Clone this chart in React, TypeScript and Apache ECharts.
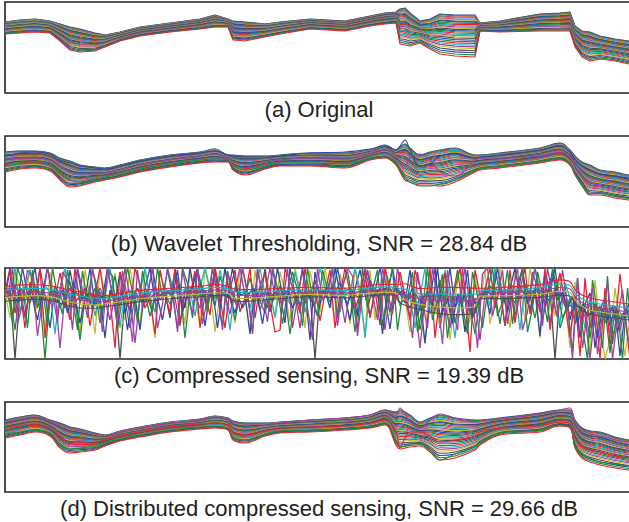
import React, { useEffect, useRef } from "react";
import * as echarts from "echarts";

// Shared sample positions along the signal (image px)
const X = [5, 20, 35, 50, 60, 70, 80, 95, 105, 120, 140, 170, 200, 215, 228, 233, 245, 265, 280, 310, 345, 370, 385, 396, 400, 405, 410, 420, 430, 440, 455, 475, 480, 500, 540, 560, 570, 575, 582, 590, 600, 615, 629, 645];

// Panel (a) Original: upper / lower edge of the bundle (depth below frame top)
const A_UPPER = [20, 18, 17, 19, 22, 25, 27, 31, 33, 30, 25, 21, 17, 13, 17, 19, 20, 22, 20, 17, 19, 14, 11, 10, 7, 6, 11, 19, 17, 12, 13, 13, 21, 19, 12, 11, 10, 24, 29, 30, 34, 37, 39, 40];
const A_LOWER = [32, 31, 30, 31, 39, 48, 50, 49, 45, 39, 34, 30, 27, 25, 25, 38, 39, 35, 32, 27, 29, 24, 22, 21, 42, 43, 44, 41, 47, 52, 54, 55, 29, 30, 29, 29, 29, 45, 55, 59, 57, 59, 62, 63];

// Panel (b) Wavelet thresholding
const B_UPPER = [16, 15, 15, 17, 22, 25, 29, 31, 32, 29, 24, 19, 16, 13, 19, 19, 20, 20, 19, 17, 17, 14, 9, 14, 11, 8, 12, 19, 16, 14, 12, 19, 19, 17, 12, 7, 14, 20, 26, 29, 34, 36, 39, 40];
const B_LOWER = [36, 33, 32, 35, 44, 51, 50, 46, 44, 41, 36, 31, 27, 26, 26, 34, 39, 33, 30, 30, 32, 24, 22, 29, 36, 44, 46, 49, 49, 50, 46, 36, 34, 32, 27, 24, 29, 39, 49, 59, 59, 62, 64, 65];
const B_EXTRA_1 = [20, 17, 16, 18, 24, 27, 30, 32, 33, 30, 25, 20, 17, 15, 19, 20, 21, 21, 20, 17, 16, 13, 10, 14, 10, 4, 14, 30, 28, 20, 18, 22, 21, 19, 14, 10, 16, 24, 30, 34, 38, 40, 42, 43];
const B_EXTRA_2 = [30, 28, 27, 30, 38, 44, 46, 43, 41, 38, 33, 28, 24, 23, 24, 30, 34, 30, 27, 27, 28, 22, 20, 26, 34, 42, 46, 50, 50, 48, 44, 34, 32, 30, 25, 22, 27, 38, 50, 58, 57, 60, 62, 63];
const B_EXTRA_3 = [24, 22, 22, 24, 30, 36, 38, 38, 37, 34, 29, 24, 20, 18, 22, 26, 28, 26, 24, 22, 22, 18, 14, 20, 26, 30, 22, 18, 24, 36, 40, 24, 22, 22, 20, 16, 20, 30, 40, 46, 50, 54, 56, 57];

// Panel (c) Compressed sensing: underlying band
const C_UPPER = [17, 15, 15, 16, 18, 20, 22, 25, 26, 24, 21, 19, 17, 15, 17, 19, 20, 20, 19, 18, 19, 16, 15, 15, 14, 13, 15, 18, 17, 16, 16, 17, 19, 18, 15, 10, 12, 20, 25, 28, 30, 32, 34, 35];
const C_LOWER = [35, 34, 33, 34, 37, 40, 42, 42, 40, 38, 35, 32, 30, 29, 29, 34, 35, 33, 32, 30, 31, 29, 28, 29, 37, 40, 42, 44, 47, 49, 50, 48, 32, 32, 31, 29, 30, 37, 44, 48, 50, 52, 54, 55];
// Noisy reconstructions, one value every 5 px (from x = 5, or x = 7.5 for the second group)
const C_NOISE_1 = [25, 0, 30, 22, 48, 20, 0, 33, 26, 60, 18, 27, 40, 2, 30, 55, 31, 0, 38, 29, 70, 22, 35, 4, 45, 28, 30, 62, 20, 0, 34, 27, 24, 50, 2, 26, 40, 0, 28, 22, 58, 25, 3, 36, 0, 30, 45, 26, 28, 66, 20, 31, 1, 44, 24, 27, 55, 0, 26, 38, 22, 72, 4, 28, 23, 40, 0, 25, 30, 52, 21, 2, 27, 48, 24, 0, 29, 61, 20, 26, 35, 2, 44, 28, 75, 30, 0, 50, 33, 0, 40, 28, 64, 22, 36, 30, 24, 46, 3, 23, 58, 21, 0, 30, 25, 42, 20, 68, 5, 24, 0, 38, 20, 52, 30, 70, 36, 25, 80, 42, 30, 58, 39, 88, 44, 35, 62, 45];
const C_NOISE_2 = [30, 2, 45, 22, 60, 14, 38, 0, 70, 24, 32, 5, 29, 52, 0, 35, 20, 58, 27, 0, 36, 31, 80, 4, 24, 42, 0, 16, 40, 30, 66, 2, 27, 45, 0, 55, 22, 28, 3, 60, 26, 47, 0, 30, 60, 21, 2, 44, 30, 0, 50, 18, 6, 35, 64, 62, 1, 12, 27, 45, 0, 31, 20, 53, 25, 2, 60, 27, 0, 24, 41, 26, 3, 50, 22, 57, 0, 20, 36, 4, 28, 52, 2, 19, 40, 0, 70, 26, 5, 45, 20, 0, 29, 84, 2, 27, 22, 0, 40, 20, 58, 2, 55, 22, 0, 46, 23, 44, 1, 62, 26, 5, 36, 70, 28, 88, 10, 60, 35, 91, 20, 76, 60, 6, 48, 91, 30, 86];
const C_NOISE_3 = [22, 28, 62, 20, 26, 35, 18, 30, 91, 25, 22, 40, 28, 14, 33, 72, 29, 34, 20, 55, 30, 28, 8, 36, 32, 60, 27, 33, 25, 48, 31, 22, 26, 36, 22, 20, 70, 24, 30, 15, 27, 24, 38, 8, 25, 30, 52, 24, 26, 10, 29, 33, 45, 24, 30, 18, 28, 66, 26, 22, 35, 27, 12, 30, 22, 34, 24, 15, 28, 23, 64, 20, 26, 12, 25, 33, 22, 44, 18, 24, 30, 40, 26, 62, 33, 22, 31, 12, 38, 29, 55, 34, 27, 40, 66, 32, 25, 18, 24, 56, 21, 27, 35, 22, 16, 28, 50, 22, 26, 34, 20, 60, 44, 30, 56, 38, 42, 70, 35, 46, 40, 85, 38, 50, 45, 33, 57, 48];
const C_NOISE_4 = [18, 24, 0, 44, 20, 2, 22, 38, 17, 25, 66, 20, 0, 30, 18, 24, 26, 20, 48, 24, 28, 0, 30, 58, 26, 22, 38, 25, 0, 29, 44, 23, 20, 27, 3, 34, 20, 22, 48, 19, 0, 23, 30, 2, 24, 62, 19, 22, 24, 40, 22, 0, 27, 24, 50, 21, 25, 36, 4, 26, 44, 22, 29, 0, 20, 26, 18, 44, 20, 24, 0, 22, 70, 19, 21, 34, 3, 25, 16, 38, 24, 30, 60, 28, 0, 46, 26, 34, 2, 30, 70, 25, 33, 20, 44, 27, 20, 38, 0, 22, 27, 16, 20, 62, 19, 24, 0, 22, 36, 17, 40, 55, 15, 30, 42, 34, 60, 32, 40, 48, 36, 66, 40, 44, 52, 38, 70, 42];
const C_NOISE_5 = [27, 32, 18, 26, 50, 22, 30, 0, 28, 36, 24, 80, 26, 20, 34, 28, 30, 24, 36, 20, 32, 52, 28, 34, 0, 30, 75, 29, 35, 26, 18, 32, 26, 22, 30, 58, 24, 19, 28, 40, 22, 30, 0, 25, 27, 46, 22, 0, 28, 30, 22, 42, 26, 0, 29, 25, 33, 20, 27, 60, 24, 28, 36, 22, 26, 20, 30, 25, 55, 22, 27, 30, 0, 24, 28, 20, 62, 24, 28, 35, 32, 25, 36, 80, 30, 28, 42, 24, 36, 60, 28, 34, 0, 38, 30, 72, 26, 30, 20, 24, 34, 22, 48, 20, 26, 28, 0, 30, 24, 55, 22, 26, 38, 46, 35, 40, 48, 91, 44, 38, 55, 40, 46, 62, 42, 50, 86, 46];
const C_NOISE_6 = [24, 50, 3, 20, 36, 0, 45, 22, 62, 4, 33, 26, 0, 50, 24, 66, 2, 28, 66, 0, 26, 34, 5, 60, 50, 0, 28, 58, 2, 32, 70, 3, 25, 48, 0, 26, 56, 4, 28, 58, 0, 20, 64, 26, 3, 22, 55, 0, 27, 62, 2, 36, 0, 28, 48, 4, 24, 54, 1, 22, 60, 3, 27, 44, 0, 28, 52, 6, 24, 56, 0, 30, 66, 2, 52, 23, 0, 48, 22, 4, 30, 64, 8, 40, 76, 2, 38, 58, 6, 72, 30, 0, 64, 52, 10, 36, 2, 56, 30, 0, 28, 60, 4, 20, 52, 0, 26, 70, 2, 24, 48, 6, 30, 80, 14, 64, 40, 86, 12, 60, 91, 72, 20, 55, 88, 50, 80, 22];
const C_NOISE_7 = [26, 20, 91, 24, 28, 22, 30, 26, 32, 24, 28, 22, 30, 26, 24, 28, 30, 26, 32, 28, 34, 30, 26, 91, 28, 30, 24, 32, 28, 30, 26, 28, 24, 26, 22, 28, 24, 26, 22, 28, 24, 26, 30, 24, 26, 28, 22, 26, 28, 24, 26, 30, 24, 28, 26, 22, 28, 26, 30, 24, 28, 26, 91, 24, 22, 24, 26, 22, 24, 20, 26, 22, 24, 26, 22, 24, 20, 26, 22, 24, 28, 30, 26, 32, 28, 30, 26, 60, 30, 28, 32, 26, 30, 28, 32, 30, 24, 22, 26, 24, 22, 26, 24, 22, 26, 24, 22, 26, 24, 22, 91, 24, 34, 38, 36, 40, 38, 42, 44, 40, 46, 44, 48, 46, 50, 48, 52, 50];
const C_NOISE_8 = [28, 20, 35, 0, 26, 30, 52, 24, 0, 29, 34, 22, 45, 27, 2, 31, 26, 40, 22, 30, 0, 28, 36, 24, 62, 29, 20, 33, 27, 0, 30, 52, 22, 30, 2, 44, 25, 20, 0, 27, 34, 22, 60, 24, 30, 0, 26, 40, 30, 20, 28, 56, 24, 33, 0, 28, 22, 40, 30, 0, 27, 34, 48, 24, 20, 30, 0, 26, 36, 22, 48, 24, 3, 30, 22, 66, 26, 0, 28, 22, 34, 20, 48, 30, 24, 38, 0, 44, 30, 56, 26, 36, 2, 50, 34, 28, 22, 30, 0, 26, 44, 22, 28, 0, 36, 24, 20, 52, 26, 4, 32, 24, 40, 28, 55, 36, 48, 44, 70, 40, 52, 38, 64, 46, 42, 74, 48, 44];
const C_NOISE_9 = [22, 54, 0, 14, 60, 2, 40, 20, 58, 0, 28, 46, 2, 30, 62, 3, 34, 0, 30, 46, 2, 8, 62, 28, 0, 24, 54, 3, 30, 44, 0, 30, 2, 28, 60, 0, 16, 50, 4, 20, 44, 0, 28, 58, 3, 24, 36, 0, 26, 64, 2, 28, 40, 0, 20, 56, 24, 4, 22, 58, 0, 30, 48, 2, 22, 0, 50, 18, 3, 34, 60, 0, 40, 22, 2, 58, 24, 0, 62, 26, 30, 4, 64, 40, 0, 52, 32, 6, 70, 30, 2, 38, 66, 4, 28, 60, 24, 0, 48, 34, 2, 56, 18, 0, 64, 40, 4, 26, 54, 0, 24, 50, 38, 84, 10, 60, 91, 12, 44, 80, 8, 76, 42, 91, 20, 66, 86, 26];
const C_NOISE_10 = [30, 0, 56, 36, 2, 10, 68, 32, 0, 26, 54, 4, 12, 62, 0, 22, 50, 2, 20, 64, 0, 26, 58, 3, 30, 74, 2, 40, 26, 0, 60, 36, 0, 20, 64, 2, 28, 46, 0, 56, 30, 1, 24, 62, 4, 28, 40, 0, 24, 66, 0, 26, 54, 2, 28, 38, 0, 60, 30, 3, 40, 72, 0, 32, 26, 2, 58, 20, 0, 8, 68, 24, 2, 26, 52, 0, 24, 46, 0, 26, 32, 70, 4, 34, 60, 0, 30, 76, 2, 40, 62, 0, 44, 30, 80, 6, 0, 48, 26, 2, 56, 24, 0, 62, 44, 4, 20, 58, 0, 28, 50, 2, 36, 91, 10, 80, 44, 20, 86, 46, 14, 91, 50, 22, 66, 88, 52, 30];

// Panel (d) Distributed compressed sensing
const D_UPPER = [18, 15, 13, 18, 21, 25, 27, 31, 33, 29, 25, 20, 17, 14, 16, 19, 21, 21, 20, 18, 16, 13, 8, 10, 8, 10, 13, 20, 16, 13, 16, 18, 18, 16, 11, 8, 8, 18, 26, 29, 30, 35, 38, 39];
const D_LOWER = [36, 33, 30, 34, 46, 51, 50, 48, 44, 39, 35, 30, 27, 26, 28, 38, 41, 34, 31, 30, 28, 26, 23, 43, 47, 46, 45, 44, 50, 58, 56, 48, 43, 33, 30, 24, 26, 46, 56, 60, 63, 66, 68, 69];
const D_EXTRA_1 = [20, 17, 15, 19, 23, 27, 29, 32, 34, 30, 26, 21, 18, 15, 17, 20, 22, 22, 21, 18, 16, 13, 8, 14, 6, 12, 20, 26, 18, 12, 16, 20, 19, 17, 12, 8, 6, 20, 28, 32, 34, 38, 40, 41];
const D_EXTRA_2 = [32, 30, 28, 31, 42, 47, 46, 44, 41, 37, 33, 28, 25, 24, 26, 35, 38, 32, 29, 28, 27, 24, 21, 38, 45, 44, 42, 42, 48, 58, 52, 44, 40, 31, 28, 23, 25, 44, 52, 56, 60, 62, 64, 65];
const D_EXTRA_3 = [26, 24, 22, 26, 34, 40, 40, 40, 38, 34, 30, 25, 22, 21, 23, 30, 33, 29, 26, 25, 24, 21, 18, 30, 46, 36, 30, 30, 34, 40, 38, 34, 30, 26, 24, 20, 22, 36, 44, 48, 50, 54, 56, 57];

// Position of each trace inside its bundle (0 = upper edge, 1 = lower edge)
const LINE_WEIGHTS = [0, 0.02, 0.05, 0.07, 0.1, 0.12, 0.15, 0.17, 0.2, 0.23, 0.26, 0.29, 0.32, 0.35, 0.38, 0.41, 0.44, 0.47, 0.5, 0.53, 0.56, 0.6, 0.64, 0.68, 0.72, 0.76, 0.8, 0.85, 0.9, 0.95, 1];
const C_WEIGHTS = [0.1, 0.3, 0.5, 0.7, 0.9];

const TITLES = [
  "(a) Original",
  "(b) Wavelet Thresholding, SNR = 28.84 dB",
  "(c) Compressed sensing, SNR = 19.39 dB",
  "(d) Distributed compressed sensing, SNR = 29.66 dB",
];

const COLORS = ["#2f47a8", "#1f8a3e", "#e8232b", "#1fb5c0", "#a13fa3", "#c2bd2c", "#4d4d4d"];

const GRID_TOPS = [2, 136, 268, 402];
const GRID_HEIGHTS = [91, 91, 91, 90];
const TITLE_Y = [109, 243, 375, 508];

export default function App() {
  const ref = useRef<HTMLDivElement>(null);

  useEffect(() => {
    if (!ref.current) return;
    const chart = echarts.init(ref.current, null, { renderer: "svg" });

    const series: any[] = [];
    let colorIdx = 0;
    const nextColor = () => COLORS[colorIdx++ % COLORS.length];

    const addLine = (idx: number, data: number[][], color: string, smooth: number | boolean, width = 1.1) => {
      series.push({
        type: "line",
        xAxisIndex: idx,
        yAxisIndex: idx,
        data,
        symbol: "none",
        showSymbol: false,
        smooth,
        silent: true,
        clip: true,
        lineStyle: { color, width },
        emphasis: { disabled: true },
      });
    };

    const bundle = (idx: number, up: number[], lo: number[], weights: number[], smooth: number | boolean) => {
      weights.forEach((w) => {
        const data = X.map((x, i) => [x, up[i] + w * (lo[i] - up[i])]);
        addLine(idx, data, nextColor(), smooth);
      });
    };

    const raw = (idx: number, vals: number[], color: string, smooth: number | boolean) => {
      addLine(idx, X.map((x, i) => [x, vals[i]]), color, smooth, 1.1);
    };

    // (a)
    bundle(0, A_UPPER, A_LOWER, LINE_WEIGHTS, false);
    // (b)
    colorIdx = 0;
    bundle(1, B_UPPER, B_LOWER, LINE_WEIGHTS, 0.4);
    raw(1, B_EXTRA_1, COLORS[0], 0.4);
    raw(1, B_EXTRA_2, COLORS[1], 0.4);
    raw(1, B_EXTRA_3, COLORS[4], 0.4);
    // (c)
    const noiseA = [C_NOISE_7, C_NOISE_6, C_NOISE_3, C_NOISE_1, C_NOISE_4, C_NOISE_5, C_NOISE_2];
    const noiseAColors = [COLORS[6], COLORS[5], COLORS[1], COLORS[0], COLORS[3], COLORS[4], COLORS[2]];
    noiseA.forEach((arr, k) => {
      addLine(2, arr.map((v, i) => [5 + 5 * i, v]), noiseAColors[k], false, 1.3);
    });
    const noiseB = [C_NOISE_8, C_NOISE_9, C_NOISE_10];
    const noiseBColors = [COLORS[0], COLORS[1], COLORS[4]];
    noiseB.forEach((arr, k) => {
      addLine(2, arr.map((v, i) => [7.5 + 5 * i, v]), noiseBColors[k], false, 1.3);
    });
    colorIdx = 2;
    bundle(2, C_UPPER, C_LOWER, C_WEIGHTS, 0.3);
    // (d)
    colorIdx = 0;
    bundle(3, D_UPPER, D_LOWER, LINE_WEIGHTS, 0.4);
    raw(3, D_EXTRA_1, COLORS[4], 0.4);
    raw(3, D_EXTRA_2, COLORS[1], 0.4);
    raw(3, D_EXTRA_3, COLORS[2], 0.4);

    const grids = GRID_TOPS.map((top, i) => ({
      left: 5,
      top,
      width: 640,
      height: GRID_HEIGHTS[i],
      show: true,
      borderColor: "#222",
      borderWidth: 1.6,
      backgroundColor: "transparent",
      containLabel: false,
    }));
    const xAxes = GRID_TOPS.map((_, i) => ({
      type: "value",
      gridIndex: i,
      min: 5,
      max: 645,
      show: false,
    }));
    const yAxes = GRID_TOPS.map((_, i) => ({
      type: "value",
      gridIndex: i,
      min: 0,
      max: GRID_HEIGHTS[i],
      inverse: true,
      show: false,
    }));

    const graphic = TITLES.map((t, i) => ({
      type: "text",
      x: 319,
      y: TITLE_Y[i],
      silent: true,
      style: {
        text: t,
        fontSize: 22,
        fontFamily: "Liberation Sans, Arial, sans-serif",
        fill: "#222",
        textAlign: "center",
        textVerticalAlign: "middle",
        align: "center",
        verticalAlign: "middle",
      },
    }));

    chart.setOption({
      animation: false,
      backgroundColor: "#fff",
      grid: grids,
      xAxis: xAxes,
      yAxis: yAxes,
      series,
      graphic,
      tooltip: { show: false },
    });

    return () => chart.dispose();
  }, []);

  return (
    <div
      style={{
        position: "absolute",
        left: 0,
        top: 0,
        width: 629,
        height: 522,
        overflow: "hidden",
        background: "#fff",
      }}
    >
      <div ref={ref} style={{ width: 650, height: 522 }} />
    </div>
  );
}
